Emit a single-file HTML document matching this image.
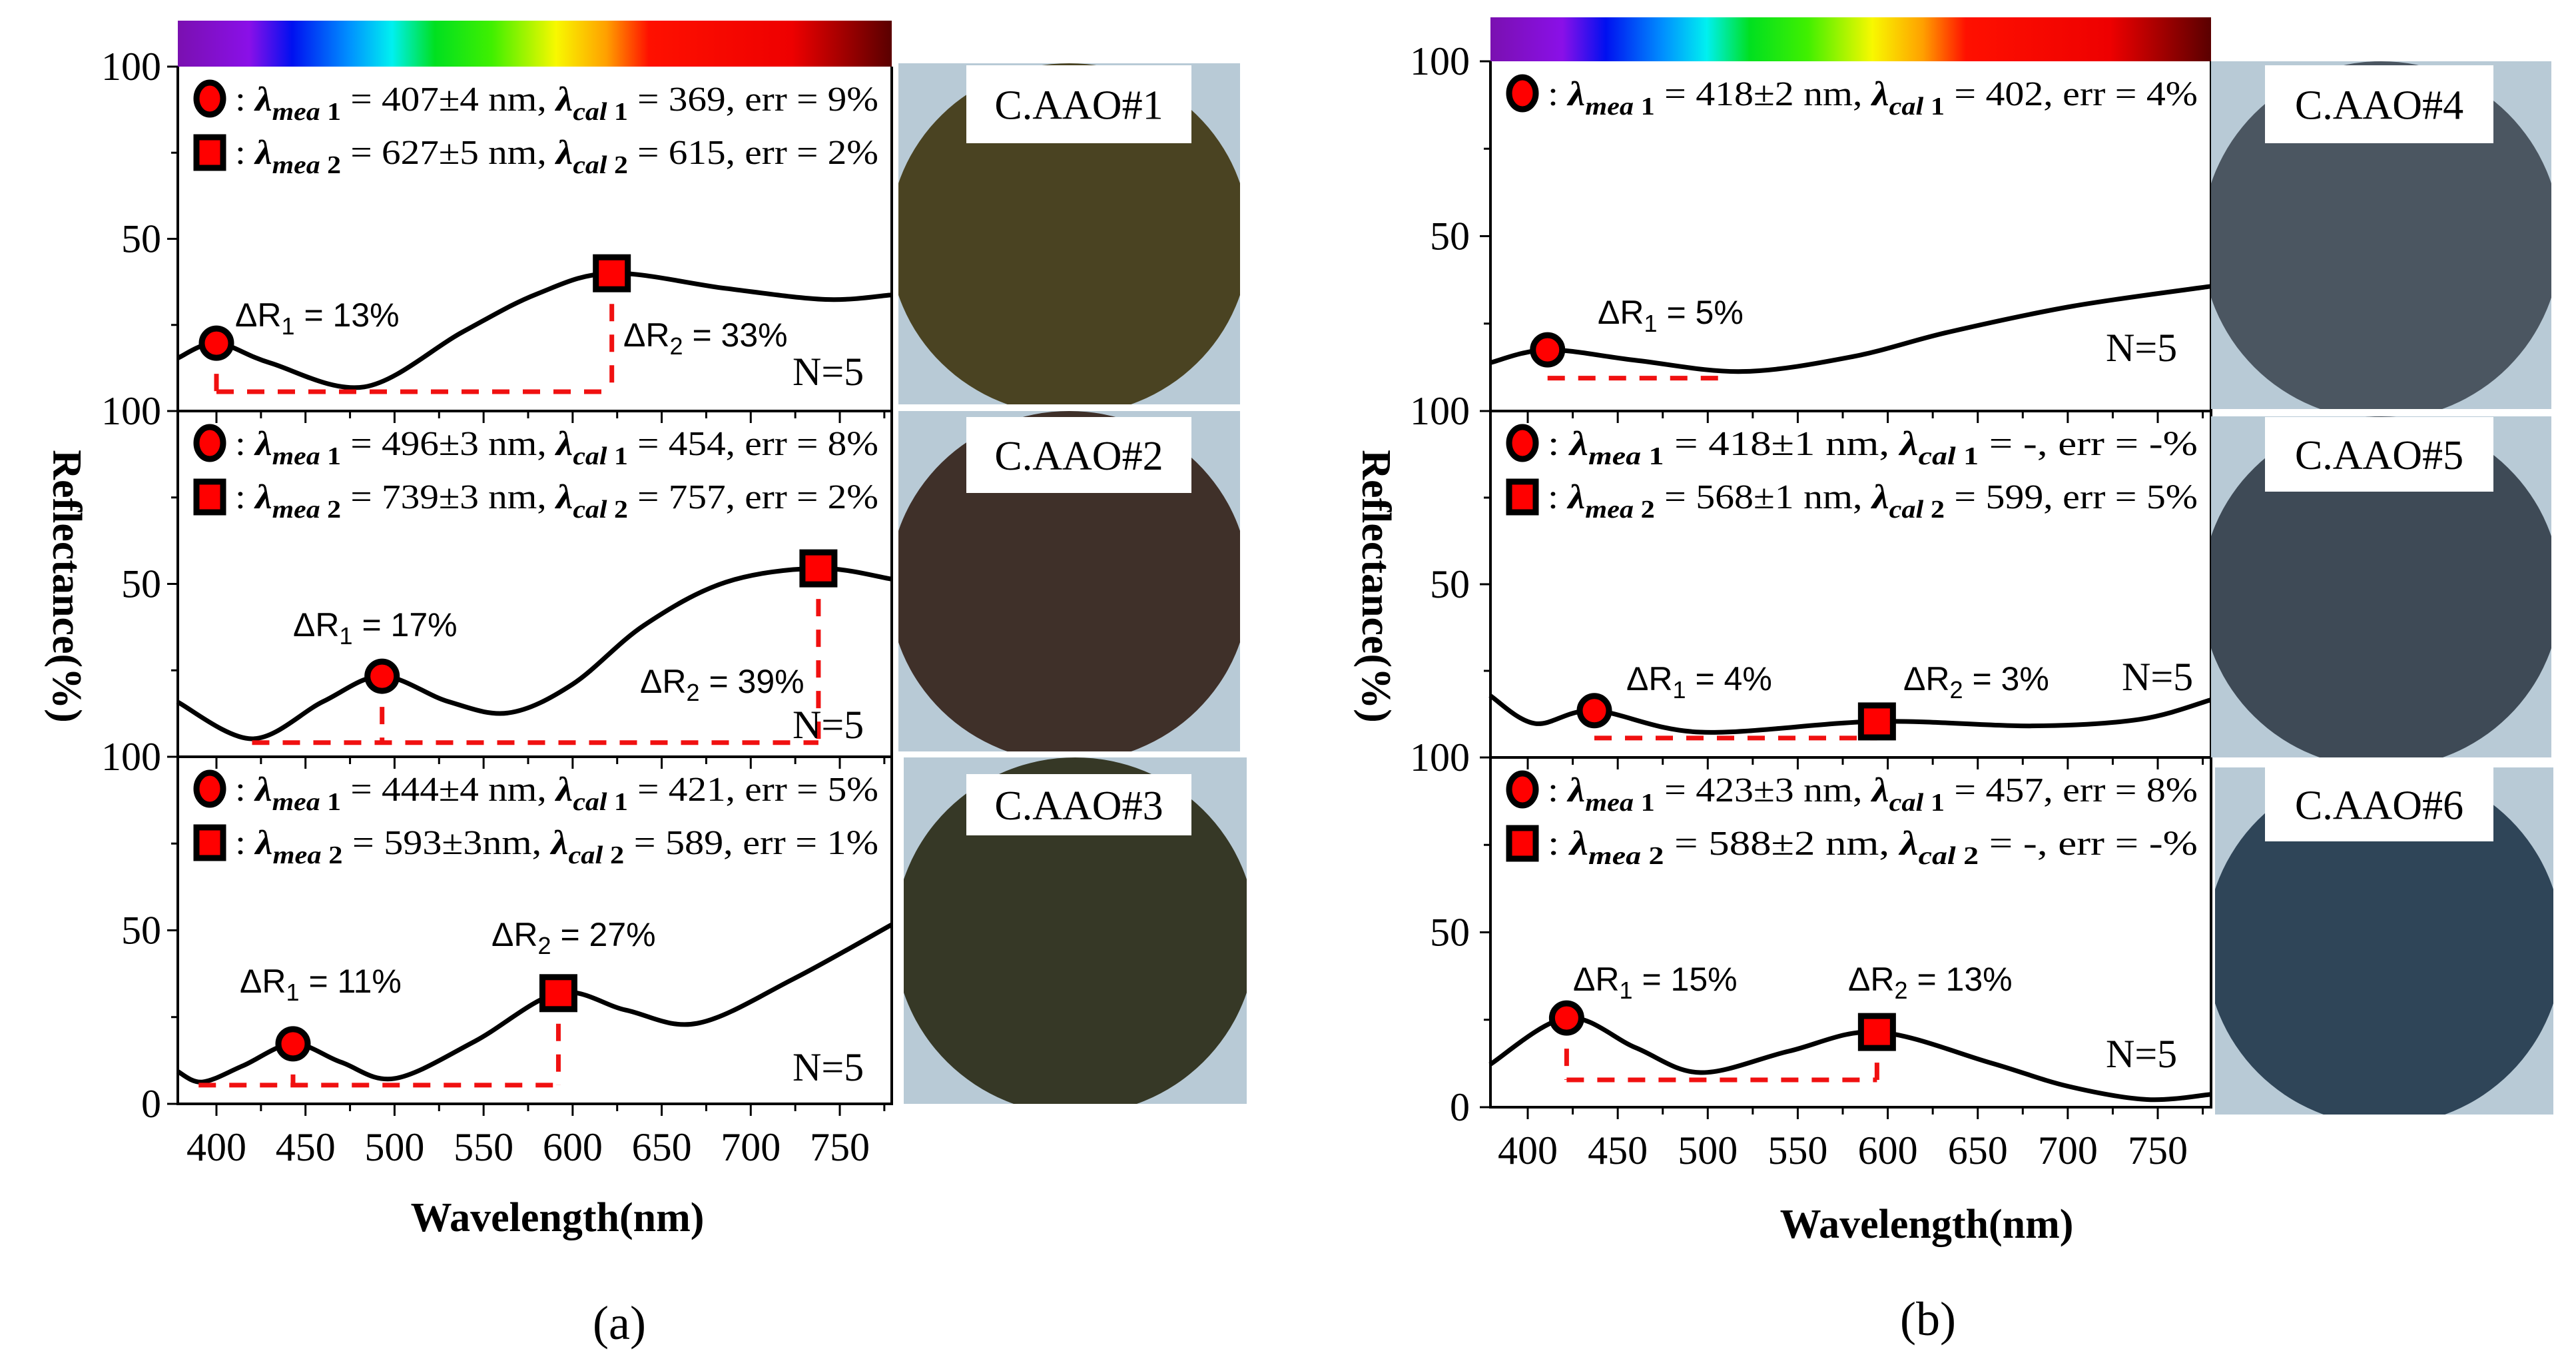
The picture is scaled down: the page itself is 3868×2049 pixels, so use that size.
<!DOCTYPE html>
<html><head><meta charset="utf-8"><style>
html,body{margin:0;padding:0;background:#fff;}
svg{display:block;}
text{font-family:"Liberation Serif",serif;}
.sans{font-family:"Liberation Sans",sans-serif;}
</style></head>
<body>
<svg id="fig" width="3868" height="2049" viewBox="0 0 3868 2049" xmlns="http://www.w3.org/2000/svg">
<defs id="defs">
<linearGradient id="spec" x1="0" x2="1" y1="0" y2="0">
<stop offset="0" stop-color="#7a10b0"/><stop offset="0.1" stop-color="#8a10e8"/><stop offset="0.16" stop-color="#0010f0"/>
<stop offset="0.24" stop-color="#0090ff"/><stop offset="0.3" stop-color="#00f0f0"/><stop offset="0.36" stop-color="#00e020"/>
<stop offset="0.44" stop-color="#40f000"/><stop offset="0.53" stop-color="#f8f800"/><stop offset="0.6" stop-color="#ffa000"/>
<stop offset="0.66" stop-color="#ff1000"/><stop offset="0.86" stop-color="#ee0000"/><stop offset="1" stop-color="#5a0000"/>
</linearGradient>
</defs>
</svg>
<script>
// ---- data ----
const wlA1=[378,400,430,483,538,580,622,686,742,779];
const rA1=[15.3,19.7,14,7,22.9,34,40,35.6,32.4,33.7];
const wlA2=[378,420,460,493,530,564,600,640,686,738,779];
const rA2=[15.9,5.2,16,23.3,16,12.7,21,38,50.5,54.5,51.4];
const wlA3=[378,392,415,443,470,500,545,592,630,670,724,779];
const rA3=[9.4,6.3,11,17.3,12,7.3,18,31.9,27,23.2,36,51.6];
const wlB1=[379,411,460,519,580,634,703,780];
const rB1=[13.8,17.5,14.5,11.3,15.5,22.6,30,35.7];
const wlB2=[379,404,437,496,594,680,740,780];
const rB2=[17.9,9.8,13.5,7.3,10.4,9.1,11,16.7];
const wlB3=[379,421.6,460,496,545,594,657,700,744,780];
const rB3=[12.2,25.5,17,9.9,16,21.5,12.7,6,2.2,3.7];
const circleWl=[400,493,443,411,437,421.6];
const circleR=[19.7,23.3,17.3,17.5,13.5,25.5];
const squareWl=[622,738,592,null,594,594];
const squareR=[40,54.5,31.9,null,10.4,21.5];
const baseStartWl=[400,420,390,411,437,421.6];
const baseEndWl=[622,738,592,508,594,594];
const baseR=[5.6,4.1,5.4,9.4,5.6,7.8];
const xTickLabels=[400,450,500,550,600,650,700,750];
const yTickLabelsL=["100","50","100","50","100","50","0"];
const legend1=["407±4 nm","369","9%","496±3 nm","454","8%","444±4 nm","421","5%","418±2 nm","402","4%","418±1 nm","-","-%","423±3 nm","457","8%"];
const legend2=["627±5 nm","615","2%","739±3 nm","757","2%","593±3nm","589","1%",null,null,null,"568±1 nm","599","5%","588±2 nm","-","-%"];
const dR1=["13%","17%","11%","5%","4%","15%"];
const dR2=["33%","39%","27%",null,"3%","13%"];
const sampleNames=["C.AAO#1","C.AAO#2","C.AAO#3","C.AAO#4","C.AAO#5","C.AAO#6"];

const NS="http://www.w3.org/2000/svg";
const svg=document.getElementById('fig');
const defs=document.getElementById('defs');
function mk(tag,attrs,parent){const e=document.createElementNS(NS,tag);for(const k in attrs)e.setAttribute(k,attrs[k]);(parent||svg).appendChild(e);return e;}

const sides=[
 {x0:267,x1:1339,px400:325,px750:1261,cb:[31,100],tops:[100,617,1136],bots:[617,1136,1657],tickRight:242,
  photos:[[1349,95,1862,607],[1349,617,1862,1128],[1357,1137,1872,1657]],
  photoCol:["#4a4322","#3f3029","#363826"],boxX:[1451,1789],boxY:[[98,215],[626,740],[1162,1254]],
  refX:80,wlX:837,wlY:1848,tag:"(a)",tagX:930,tagY:2010},
 {x0:2238,x1:3320,px400:2294,px750:3240,cb:[26,92],tops:[92,617,1137],bots:[617,1137,1662],tickRight:2207,
  photos:[[3320,92,3831,614],[3320,625,3831,1137],[3326,1152,3834,1673]],
  photoCol:["#4b5661","#3e4a56","#2f4558"],boxX:[3401,3744],boxY:[[98,215],[626,738],[1152,1263]],
  refX:2046,wlX:2893,wlY:1858,tag:"(b)",tagX:2895,tagY:2004}
];
const curves=[[wlA1,rA1],[wlA2,rA2],[wlA3,rA3],[wlB1,rB1],[wlB2,rB2],[wlB3,rB3]];
const lblPos=[[353,490,936,520,1190,578],[440,955,961,1040,1190,1108],[360,1490,738,1420,1190,1622],
 [2399,486,0,0,3162,542],[2442,1036,2858,1036,3186,1036],[2362,1487,2775,1487,3162,1602]];

function catmull(pts){let d=`M${pts[0][0]},${pts[0][1]}`;
 for(let i=0;i<pts.length-1;i++){const p0=pts[Math.max(0,i-1)],p1=pts[i],p2=pts[i+1],p3=pts[Math.min(pts.length-1,i+2)];
  const c1=[p1[0]+(p2[0]-p0[0])/6,p1[1]+(p2[1]-p0[1])/6],c2=[p2[0]-(p3[0]-p1[0])/6,p2[1]-(p3[1]-p1[1])/6];
  d+=` C${c1[0]},${c1[1]} ${c2[0]},${c2[1]} ${p2[0]},${p2[1]}`;}return d;}

sides.forEach((S,si)=>{
 const xs=w=>S.px400+(w-400)*(S.px750-S.px400)/350;
 const cb=mk('rect',{x:S.x0,y:S.cb[0],width:S.x1-S.x0,height:S.cb[1]-S.cb[0],fill:'url(#spec)'});
 
 const rt=mk('text',{x:0,y:0,'font-size':62,'font-weight':'bold','text-anchor':'middle',transform:`translate(${S.refX},880) rotate(90)`});
 rt.textContent='Reflectance(%)';
 
 const wt=mk('text',{x:S.wlX,y:S.wlY,'font-size':62,'font-weight':'bold','text-anchor':'middle'});
 wt.textContent='Wavelength(nm)';
 
 const tg=mk('text',{x:S.tagX,y:S.tagY,'font-size':72,'text-anchor':'middle'});
 tg.textContent=S.tag;
 
 xTickLabels.forEach(v=>{const t=mk('text',{x:xs(v),y:S.bots[2]+85,'font-size':60,'text-anchor':'middle'});t.textContent=v;
  });
 for(let p=0;p<3;p++){
  const idx=si*3+p,top=S.tops[p],bot=S.bots[p];
  const ys=r=>bot-r*(bot-top)/100;
  const g=mk('g',{});
  
  mk('path',{d:`M${S.x0},${top} V${bot} H${S.x1} V${top}`,fill:'none',stroke:'#000','stroke-width':4},g);
  for(let v=0;v<=100;v+=25){mk('line',{x1:S.x0-(v%50==0?16:10),x2:S.x0,y1:ys(v),y2:ys(v),stroke:'#000','stroke-width':3},g);}
  for(let w=400;w<=775;w+=25){if(xs(w)>S.x1)break;mk('line',{x1:xs(w),x2:xs(w),y1:bot,y2:bot+(w%50==0?18:11),stroke:'#000','stroke-width':3},g);}
  [[100,yTickLabelsL[p*2]],[50,yTickLabelsL[p*2+1]]].forEach(([v,l])=>{const t=mk('text',{x:S.tickRight,y:ys(v)+20,'font-size':60,'text-anchor':'end'},g);t.textContent=l;
   });
  if(p==2){const t=mk('text',{x:S.tickRight,y:ys(0)+20,'font-size':60,'text-anchor':'end'},g);t.textContent=yTickLabelsL[6];
   }
  const [wl,rr]=curves[idx];
  const c=mk('path',{d:catmull(wl.map((w,i)=>[xs(w),ys(rr[i])])),fill:'none',stroke:'#000','stroke-width':7},g);
  
  const dash={stroke:'#f01010','stroke-width':7,'stroke-dasharray':'26 20',fill:'none'};
  const bl=mk('line',Object.assign({x1:xs(baseStartWl[idx]),x2:xs(baseEndWl[idx]),y1:ys(baseR[idx]),y2:ys(baseR[idx])},dash),g);
  
  mk('line',Object.assign({x1:xs(circleWl[idx]),x2:xs(circleWl[idx]),y1:ys(circleR[idx]),y2:ys(baseR[idx])},dash),g);
  if(squareWl[idx]!==null){mk('line',Object.assign({x1:xs(squareWl[idx]),x2:xs(squareWl[idx]),y1:ys(squareR[idx]),y2:ys(baseR[idx])},dash),g);}
  const cm=mk('circle',{cx:xs(circleWl[idx]),cy:ys(circleR[idx]),r:22,fill:'#f00',stroke:'#000','stroke-width':9},g);
  
  if(squareWl[idx]!==null){const sm=mk('rect',{x:xs(squareWl[idx])-24,y:ys(squareR[idx])-24,width:48,height:48,fill:'#f00',stroke:'#000','stroke-width':9},g);
   }
  const lx=S.x0+22,ly1=top+58,ly2=top+138;
  const legendRow=(y,isSq,n,vals)=>{
   if(isSq)mk('rect',{x:lx+6,y:y-20-12,width:40,height:46,fill:'#f00',stroke:'#000','stroke-width':9},g);
   else mk('ellipse',{cx:lx+26,cy:y-10,rx:20,ry:24,fill:'#f00',stroke:'#000','stroke-width':9},g);
   const t=mk('text',{x:lx+64,y:y+8,'font-size':52,textLength:(S.x1-lx-64-20),lengthAdjust:'spacingAndGlyphs'},g);
   
   t.innerHTML=`: <tspan font-weight="bold" font-style="italic">λ</tspan><tspan font-weight="bold" font-style="italic" font-size="38" dy="14">mea</tspan><tspan font-size="38" font-weight="bold"> ${n}</tspan><tspan dy="-14"> = ${vals[0]}, </tspan><tspan font-weight="bold" font-style="italic">λ</tspan><tspan font-weight="bold" font-style="italic" font-size="38" dy="14">cal</tspan><tspan font-size="38" font-weight="bold"> ${n}</tspan><tspan dy="-14"> = ${vals[1]}, err = ${vals[2]}</tspan>`;
  };
  legendRow(ly1,false,1,legend1.slice(idx*3,idx*3+3));
  if(legend2[idx*3]!==null)legendRow(ly2,true,2,legend2.slice(idx*3,idx*3+3));
  const L=lblPos[idx];
  const d1=mk('text',{x:L[0],y:L[1],'font-size':50,class:'sans'},g);
  d1.innerHTML=`ΔR<tspan font-size="36" dy="12">1</tspan><tspan dy="-12"> = ${dR1[idx]}</tspan>`;
  
  if(dR2[idx]!==null){const d2=mk('text',{x:L[2],y:L[3],'font-size':50,class:'sans'},g);
   d2.innerHTML=`ΔR<tspan font-size="36" dy="12">2</tspan><tspan dy="-12"> = ${dR2[idx]}</tspan>`;
   }
  const nt=mk('text',{x:L[4],y:L[5],'font-size':60},g);nt.textContent='N=5';
  
  // photo (clipped disc)
  const ph=S.photos[p];
  const cp=mk('clipPath',{id:'clip'+idx},defs);
  mk('rect',{x:ph[0],y:ph[1],width:ph[2]-ph[0],height:ph[3]-ph[1]},cp);
  const pg=mk('g',{'clip-path':`url(#clip${idx})`});
  
  mk('rect',{x:ph[0],y:ph[1],width:ph[2]-ph[0],height:ph[3]-ph[1],fill:'#b8cad6'},pg);
  mk('ellipse',{cx:(ph[0]+ph[2])/2,cy:(ph[1]+ph[3])/2+8,rx:(ph[2]-ph[0])/2+14,ry:(ph[3]-ph[1])/2+8,fill:S.photoCol[p]},pg);
  const by=S.boxY[p];
  mk('rect',{x:S.boxX[0],y:by[0],width:S.boxX[1]-S.boxX[0],height:by[1]-by[0],fill:'#fff'},pg);
  const nm=mk('text',{x:(S.boxX[0]+S.boxX[1])/2,y:(by[0]+by[1])/2+22,'font-size':62,'text-anchor':'middle'},pg);
  nm.textContent=sampleNames[idx];
  
 }
});
</script>
</body></html>
